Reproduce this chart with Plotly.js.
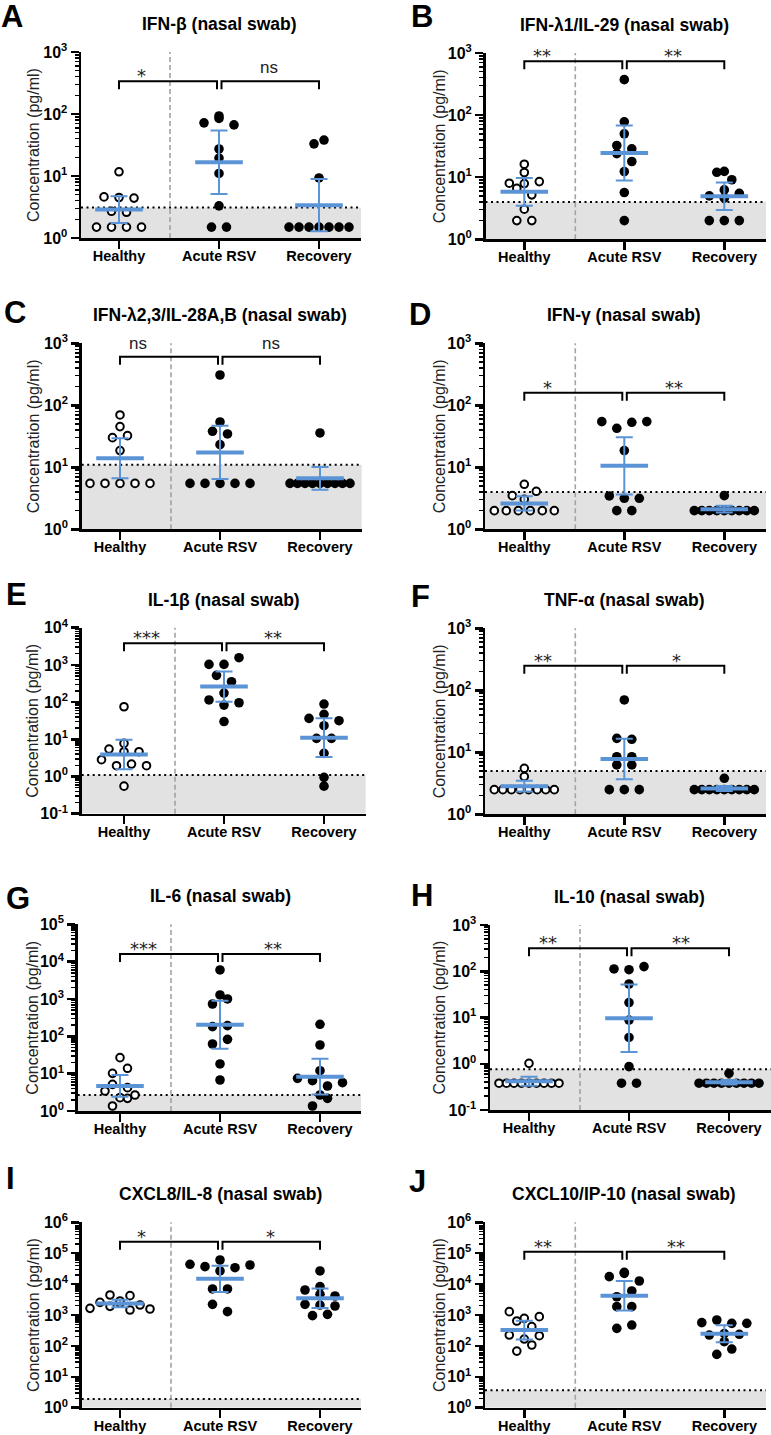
<!DOCTYPE html>
<html><head><meta charset="utf-8">
<script src="https://cdn.plot.ly/plotly-3.0.1.min.js"></script>
<style>html,body{margin:0;padding:0;background:#fff;}#chart{width:771px;height:1435px;}</style>
</head><body><div id="chart"></div>
<script>
// ---------------- data ----------------
const categories = ['Healthy', 'Acute RSV', 'Recovery'];
const panelLetters = ['A','B','C','D','E','F','G','H','I','J'];
const panelTitles = ['IFN-β (nasal swab)', 'IFN-λ1/IL-29 (nasal swab)', 'IFN-λ2,3/IL-28A,B (nasal swab)',
  'IFN-γ (nasal swab)', 'IL-1β (nasal swab)', 'TNF-α (nasal swab)', 'IL-6 (nasal swab)',
  'IL-10 (nasal swab)', 'CXCL8/IL-8 (nasal swab)', 'CXCL10/IP-10 (nasal swab)'];
const yAxisTitle = 'Concentration (pg/ml)';

const ifnb_healthy   = [4.6, 1.5, 4.5, 2.7, 1.5, 11.7, 4.4, 2.6, 1.5, 1.5];
const ifnb_acute     = [72, 1.5, 85, 27.3, 19.5, 11, 3.3, 1.5, 93, 66.7];
const ifnb_recovery  = [33, 38, 9.3, 1.5, 1.5, 1.5, 1.5, 1.5, 1.5, 1.5];

const ifnl1_healthy  = [8.0, 6.6, 2.0, 11.9, 3.05, 7.9, 5.2, 2.0, 16.2, 8.5];
const ifnl1_acute    = [32.4, 24, 372, 78, 50, 12.3, 5.66, 2.0, 28.6, 17.9];
const ifnl1_recovery = [12.0, 5.0, 2.0, 4.6, 2.0, 6.25, 9.1, 12.4, 5.5, 2.0];

const ifnl23_healthy  = [30.1, 32.4, 69.8, 45.3, 18.6, 5.5, 5.5, 5.5, 5.5, 5.5];
const ifnl23_acute    = [38.1, 34.5, 308, 53.8, 23.2, 5.5, 5.5, 5.5, 5.5, 5.5];
const ifnl23_recovery = [35.8, 5.5, 5.5, 5.5, 5.5, 5.5, 5.5, 5.5, 5.5, 5.5];

const ifng_healthy   = [3.49, 3.05, 5.32, 4.1, 2.0, 2.0, 2.0, 2.0, 2.0, 2.0];
const ifng_acute     = [54.5, 3.45, 42.6, 3.16, 2.0, 18.6, 53.2, 3.16, 2.0, 54.6];
const ifng_recovery  = [3.49, 2.0, 2.0, 2.0, 2.0, 2.0, 2.0, 2.0, 2.0, 2.0];

const il1b_healthy   = [5.47, 2.83, 1.95, 75, 0.55, 4.64, 2.16, 4.64, 7.77, 1.95];
const il1b_acute     = [114, 523, 1033, 83, 353, 30, 1033, 1563, 175, 96];
const il1b_recovery  = [36.5, 10.6, 88.7, 46.8, 23.2, 4.19, 0.95, 0.55, 10.6, 31.6];

const tnfa_healthy   = [4.06, 5.52, 2.5, 2.5, 2.5, 2.5, 2.5, 2.5, 2.5, 2.5];
const tnfa_acute     = [16.8, 8.5, 6.25, 2.5, 69.8, 2.5, 16.2, 8.5, 6.25, 2.5];
const tnfa_recovery  = [3.81, 2.5, 2.5, 2.5, 2.5, 2.5, 2.5, 2.5, 2.5, 2.5];

const il6_healthy    = [3.43, 10.2, 5.18, 2.28, 26.8, 1.36, 13.9, 2.68, 4.22, 2.18];
const il6_acute      = [1280, 734, 182, 62.3, 18.2, 5980, 6.77, 1000, 193, 83];
const il6_recovery   = [7.5, 6.5, 2.68, 210, 58.6, 12.0, 1.36, 4.67, 2.18, 5.74];

const il10_healthy   = [1.02, 0.38, 0.38, 0.38, 0.38, 0.38, 0.38, 0.38, 0.38, 0.38];
const il10_acute     = [112, 0.38, 108, 53, 21, 8.8, 3.7, 0.865, 0.38, 126];
const il10_recovery  = [0.62, 0.38, 0.38, 0.38, 0.38, 0.38, 0.38, 0.38, 0.38, 0.38];

const cxcl8_healthy  = [1643, 4440, 2570, 1906, 2400, 2840, 1452, 4225, 2107, 1563];
const cxcl8_acute    = [43650, 36700, 6950, 60300, 26600, 2215, 1282, 6950, 34000, 41550];
const cxcl8_recovery = [6440, 2215, 951, 26600, 8260, 4670, 2100, 1050, 4120, 1955];

const cxcl10_healthy  = [1282, 640, 225, 68, 780, 167, 419, 883, 214, 107];
const cxcl10_acute    = [17400, 1862, 22300, 3900, 5980, 370, 474, 12600, 1862, 24000];
const cxcl10_recovery = [565, 225, 689, 137, 53, 250, 537, 79, 237, 537];

const lod = [3.1, 4.0, 11.0, 4.0, 1.1, 5.0, 2.7, 0.76, 1.9, 3.7];
const signif = [['*','ns'],['**','**'],['ns','ns'],['*','**'],['***','**'],['**','*'],['***','**'],['**','**'],['*','*'],['**','**']];
const yDecades = [[0,3],[0,3],[0,3],[0,3],[-1,4],[0,3],[0,5],[-1,3],[0,6],[0,6]];

const groupsByPanel = [
  [ifnb_healthy, ifnb_acute, ifnb_recovery],
  [ifnl1_healthy, ifnl1_acute, ifnl1_recovery],
  [ifnl23_healthy, ifnl23_acute, ifnl23_recovery],
  [ifng_healthy, ifng_acute, ifng_recovery],
  [il1b_healthy, il1b_acute, il1b_recovery],
  [tnfa_healthy, tnfa_acute, tnfa_recovery],
  [il6_healthy, il6_acute, il6_recovery],
  [il10_healthy, il10_acute, il10_recovery],
  [cxcl8_healthy, cxcl8_acute, cxcl8_recovery],
  [cxcl10_healthy, cxcl10_acute, cxcl10_recovery]
];

// ---------------- layout geometry (pixels) ----------------
const W = 771, H = 1435, UNIT = 100;
const boxes = [
  {l:81,    r:361,   t:52,     b:238,    c0:119},
  {l:485.5, r:766,   t:53,     b:239.3,  c0:524.3},
  {l:81.7,  r:361.7, t:343.3,  b:529.3,  c0:120},
  {l:485,   r:766,   t:343.3,  b:529.3,  c0:524.3},
  {l:81.7,  r:365.7, t:627.7,  b:813.7,  c0:124},
  {l:485,   r:766,   t:628.3,  b:814.3,  c0:524.3},
  {l:77.7,  r:361,   t:924.3,  b:1111,   c0:120},
  {l:490,   r:771,   t:925,    b:1110,   c0:529},
  {l:81.7,  r:361,   t:1222.3, b:1407.7, c0:120},
  {l:485,   r:766,   t:1222.3, b:1407.7, c0:524.3}
];
const bracketY = [336, 734, 609, 160, 3790, 250, 16000, 313, 236600, 112000];
const labelX = [[0.227,1.503],[0.173,1.485],[0.183,1.506],[0.233,1.5],[0.227,1.487],
                [0.183,1.52],[0.233,1.533],[0.193,1.52],[0.217,1.507],[0.19,1.513]];
const letterPos = [[0,17],[410,17],[3,312],[408,314],[5,595],[410,596],[5,898],[410,895],[5,1178],[408,1181]];

const FONT = "'Liberation Sans', Arial, sans-serif";
const BLUE = '#5b94d6';
const ROW_PX = 8;
const T975 = {1:12.706,2:4.303,3:3.182,4:2.776,5:2.571,6:2.447,7:2.365,8:2.306,9:2.262,10:2.228,11:2.201,12:2.179};

function gmci(vals) {
  const l = vals.map(Math.log10), n = l.length;
  const m = l.reduce((a,b)=>a+b,0)/n;
  const sd = Math.sqrt(l.reduce((a,b)=>a+(b-m)*(b-m),0)/(n-1));
  const h = T975[n-1]*sd/Math.sqrt(n);
  return [Math.pow(10,m), Math.pow(10,m-h), Math.pow(10,m+h)];
}

// Prism-like row swarm: nearby values form a row that is centred on the category
function swarm(vals, pxDec) {
  const n = vals.length;
  const idx = vals.map((v,i)=>i).sort((a,b)=> vals[a]-vals[b] || a-b);
  const rows = []; let cur = null;
  idx.forEach(i => {
    const p = Math.log10(vals[i]) * pxDec;
    if (cur && p - cur.start < ROW_PX) cur.members.push(i);
    else { cur = {start:p, members:[i]}; rows.push(cur); }
  });
  const maxRow = Math.max(...rows.map(r=>r.members.length));
  const sp = maxRow > 1 ? Math.min(15, 60/(maxRow-1)) : 15;
  const off = new Array(n).fill(0);
  rows.forEach(r => {
    const m = r.members.slice().sort((a,b)=>a-b);
    m.forEach((i,k) => { off[i] = (k-(m.length-1)/2)*sp/UNIT; });
  });
  return off;
}

const traces = [], shapes = [], annotations = [];
const layout = {width:W, height:H, margin:{l:0,r:0,t:0,b:0,pad:0}, showlegend:false,
  paper_bgcolor:'white', plot_bgcolor:'rgba(0,0,0,0)', font:{family:FONT, color:'black'},
  shapes, annotations};

groupsByPanel.forEach((groups, i) => {
  const box = boxes[i];
  const sfx = i === 0 ? '' : String(i+1);
  const xa = 'x'+sfx, ya = 'y'+sfx;
  const [lo, hi] = yDecades[i];
  const pxDec = (box.b - box.t)/(hi - lo);
  const tickvals = [], ticktext = [], minorvals = [];
  for (let k = lo; k <= hi; k++) {
    tickvals.push(Math.pow(10,k)); ticktext.push('10<sup>'+k+'</sup>');
    if (k < hi) for (let m = 2; m <= 9; m++) minorvals.push(m*Math.pow(10,k));
  }
  layout['xaxis'+sfx] = {
    domain:[box.l/W, box.r/W], range:[(box.l-box.c0)/UNIT, (box.r-box.c0)/UNIT], anchor:ya,
    tickmode:'array', tickvals:[0,1,2], ticktext:categories, ticklabelstandoff:-5,
    showline:true, linecolor:'black', linewidth:2.5, ticks:'outside', ticklen:8, tickwidth:2.5, tickcolor:'black',
    showgrid:false, zeroline:false, fixedrange:true,
    tickfont:{family:FONT, size:14.5, color:'black', weight:'bold'}
  };
  layout['yaxis'+sfx] = {
    type:'log', domain:[1-box.b/H, 1-box.t/H], range:[lo, hi], anchor:xa,
    tickmode:'array', tickvals, ticktext,
    showline:true, linecolor:'black', linewidth:2.5, ticks:'outside', ticklen:8, tickwidth:2.5, tickcolor:'black',
    minor:{tickmode:'array', tickvals:minorvals, ticks:'outside', ticklen:4, tickwidth:1.5, tickcolor:'black', showgrid:false},
    showgrid:false, zeroline:false, fixedrange:true,
    tickfont:{family:FONT, size:16, color:'black', weight:'bold'}
  };
  // background LOD region, LOD line, divider
  shapes.push({type:'rect', xref:xa+' domain', yref:ya, x0:0, x1:1, y0:Math.pow(10,lo), y1:lod[i],
    fillcolor:'#e2e2e2', line:{width:0}, layer:'below'});
  shapes.push({type:'line', xref:xa+' domain', yref:ya, x0:0, x1:1, y0:lod[i], y1:lod[i],
    line:{color:'black', width:2, dash:'2px,3.5px'}, layer:'below'});
  shapes.push({type:'line', xref:xa, yref:ya+' domain', x0:0.51, x1:0.51, y0:0, y1:1,
    line:{color:'#a3a3a3', width:1.6, dash:'5px,3px'}, layer:'below'});

  groups.forEach((vals, g) => {
    const off = swarm(vals, pxDec);
    traces.push({type:'scatter', mode:'markers', xaxis:xa, yaxis:ya, hoverinfo:'skip', cliponaxis:false,
      x: vals.map((v,k)=> g + off[k]), y: vals,
      marker: g === 0 ? {symbol:'circle', size:7.6, color:'white', line:{color:'black', width:2}}
                      : {symbol:'circle', size:9.6, color:'black', line:{width:0}}});
  });
  const stats = groups.map(gmci);
  traces.push({type:'scatter', mode:'markers', xaxis:xa, yaxis:ya, hoverinfo:'skip',
    x:[0,1,2], y:stats.map(s=>s[0]),
    error_y:{type:'data', symmetric:false, array:stats.map(s=>s[2]-s[0]), arrayminus:stats.map(s=>s[0]-s[1]),
      color:BLUE, thickness:2, width:8.5},
    marker:{symbol:'line-ew', size:34, color:BLUE, line:{width:4, color:BLUE}}});

  // significance brackets
  const by = bracketY[i], leg = by*Math.pow(10, -8/pxDec);
  traces.push({type:'scatter', mode:'lines', xaxis:xa, yaxis:ya, hoverinfo:'skip',
    x:[0,0,0.98,0.98], y:[leg,by,by,leg], line:{color:'black', width:2}});
  traces.push({type:'scatter', mode:'lines', xaxis:xa, yaxis:ya, hoverinfo:'skip',
    x:[1.025,1.025,2,2], y:[leg,by,by,leg], line:{color:'black', width:2}});
  signif[i].forEach((s, j) => {
    const isStar = s.indexOf('*') >= 0;
    annotations.push({xref:xa, yref:ya, x:labelX[i][j], y:Math.log10(by), text:s, showarrow:false,
      xanchor:'center', yanchor:'bottom', yshift: isStar ? -7 : 2,
      font: isStar ? {family:"'DejaVu Sans', sans-serif", size:18, color:'#222'} : {family:FONT, size:17, color:'#222'}});
  });

  // titles, letters, axis title
  annotations.push({xref:xa, yref:'paper', x:1, y:1-(box.t-28)/H, text:panelTitles[i], showarrow:false,
    xanchor:'center', yanchor:'middle', font:{family:FONT, size:17.5, color:'black', weight:'bold'}});
  annotations.push({xref:'paper', yref:'paper', x:letterPos[i][0]/W, y:1-letterPos[i][1]/H, text:panelLetters[i],
    showarrow:false, xanchor:'left', yanchor:'middle', borderpad:0, font:{family:FONT, size:31, color:'black', weight:'bold'}});
  const tx = (i % 2 === 0) ? 33 : 439;
  annotations.push({xref:'paper', yref:'paper', x:tx/W, y:1-(box.t+box.b)/2/H, text:yAxisTitle, textangle:-90,
    showarrow:false, xanchor:'center', yanchor:'middle', font:{family:FONT, size:16, color:'#222'}});
});

Plotly.newPlot('chart', traces, layout, {staticPlot:true, displayModeBar:false});
</script>
</body></html>
